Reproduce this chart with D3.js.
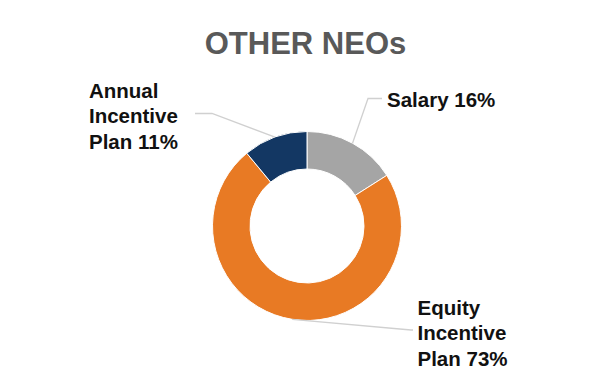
<!DOCTYPE html>
<html><head><meta charset="utf-8">
<script src="https://cdn.jsdelivr.net/npm/d3@7"></script>
<style>body{margin:0;background:#fff}svg{display:block}text{font-family:"Liberation Sans",Arial,sans-serif}</style>
</head><body>
<svg id="c" width="614" height="384"></svg>
<script>
const categories = ["Salary", "Equity Incentive Plan", "Annual Incentive Plan"];
const values = [16, 73, 11];
const colors = ["#A5A5A5", "#E87A24", "#133763"];
const labelLines = [["Salary 16%"], ["Equity", "Incentive", "Plan 73%"], ["Annual", "Incentive", "Plan 11%"]];
const title = "OTHER NEOs";

const svg = d3.select("#c");
const cx = 307, cy = 226, rOuter = 94.5, rInner = 57;
const g = svg.append("g").attr("transform", `translate(${cx},${cy})`);

svg.append("text").attr("x", 305.5).attr("y", 53.5).attr("text-anchor", "middle")
  .attr("font-size", 31).attr("font-weight", "bold").attr("fill", "#595959").text(title);

const pie = d3.pie().sort(null).value(d => d);
const arcs = pie(values);
const arc = d3.arc().innerRadius(rInner).outerRadius(rOuter);

g.selectAll("path.slice").data(arcs).join("path").attr("class", "slice")
  .attr("d", arc).attr("fill", (d, i) => colors[i])
  .attr("stroke", "#fff").attr("stroke-width", 1);

// label layout (positions relative to svg)
const layout = [
  {elbow: [368, 98.5], end: [382, 98.5], tx: 387, ty: 106.5},
  {elbow: [411, 330], end: [413, 330], tx: 417.5, ty: 314.5},
  {elbow: [212, 113.5], end: [195, 113.5], tx: 89, ty: 97.5}
];
const lh = 25.5;
arcs.forEach((a, i) => {
  const mid = (a.startAngle + a.endAngle) / 2;
  const sx = cx + rOuter * Math.sin(mid), sy = cy - rOuter * Math.cos(mid);
  const L = layout[i];
  svg.append("polyline")
    .attr("points", [[sx, sy], L.elbow, L.end].map(p => p.join(",")).join(" "))
    .attr("fill", "none").attr("stroke", "#D0D0D0").attr("stroke-width", 1.3);
  const t = svg.append("text").attr("font-size", 20.5).attr("font-weight", "bold").attr("fill", "#111");
  labelLines[i].forEach((s, j) => {
    t.append("tspan").attr("x", L.tx).attr("y", L.ty + j * lh).text(s);
  });
});
</script>
</body></html>
